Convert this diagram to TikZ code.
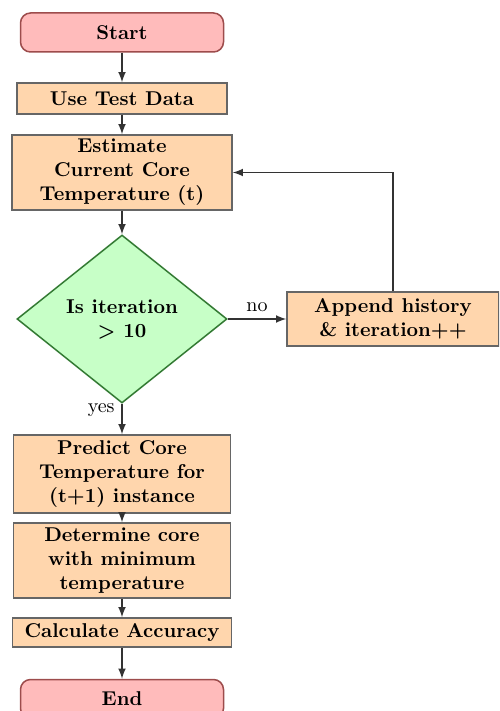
\documentclass[tikz,border=0pt]{standalone}
\usetikzlibrary{shapes.geometric}

\tikzset{every picture/.style={line width=0.75pt}}
\tikzset{
  termbox/.style={draw=red!45!black!70, fill=red!26!pink!60, rounded corners=5pt, font=\bfseries, align=center, inner sep=0pt},
  procbox/.style={draw=black!60, fill=orange!32, font=\bfseries, align=center, inner sep=0pt},
  decbox/.style={diamond, draw=green!35!black!80, fill=green!22, font=\bfseries, align=center, inner sep=0pt},
  flow/.style={->, >=latex, draw=black!80}
}

\begin{document}
\begin{tikzpicture}[x=0.5pt,y=0.5pt,yscale=-1,xscale=1]
\useasboundingbox (0,0) rectangle (499,711);
\clip (0,0) rectangle (499,711);

% Terminal: start
\node (start) [termbox, minimum width=101.5pt, minimum height=19.5pt] at (122,32.5) {Start};
% Process boxes
\node (testdata) [procbox, minimum width=105pt, minimum height=15.5pt] at (122,98.5) {Use Test Data};
\node (estimate) [procbox, minimum width=110pt, minimum height=37.5pt] at (122,172.5) {Estimate\\Current Core\\Temperature (t)};
% Decision
\node (iter) [decbox, minimum width=105pt, minimum height=84pt] at (122,319) {Is iteration\\\textgreater{} 10};
\node (append) [procbox, minimum width=106pt, minimum height=27pt] at (393,319) {Append history\\\& iteration++};
\node (predict) [procbox, minimum width=108.5pt, minimum height=39pt] at (122,474) {Predict Core\\Temperature for\\(t+1) instance};
\node (mincore) [procbox, minimum width=108.5pt, minimum height=37.5pt] at (122,560.5) {Determine core\\with minimum\\temperature};
\node (accuracy) [procbox, minimum width=109.5pt, minimum height=14.5pt] at (122,632.5) {Calculate Accuracy};
% Terminal: end
\node (finish) [termbox, minimum width=101.5pt, minimum height=19.5pt] at (122,699) {End};

% Connectors
\draw [flow] (start) -- (testdata);
\draw [flow] (testdata) -- (estimate);
\draw [flow] (estimate) -- (iter);
\draw [flow] (iter) -- node [above] {no} (append);
\draw [flow] (iter) -- node [left, pos=0.2] {yes} (predict);
\draw [flow] (append.north) |- (estimate.east);
\draw [flow] (predict) -- (mincore);
\draw [flow] (mincore) -- (accuracy);
\draw [flow] (accuracy) -- (finish);

\end{tikzpicture}
\end{document}
